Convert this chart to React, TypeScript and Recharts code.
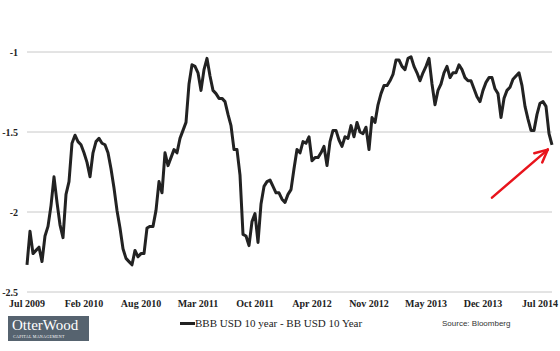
import { LineChart, Line, XAxis, YAxis, CartesianGrid, Legend, ReferenceLine } from 'recharts';

// category labels shown along the bottom, one every `labelStep` points
const tickLabels = ['Jul 2009', 'Feb 2010', 'Aug 2010', 'Mar 2011', 'Oct 2011', 'Apr 2012', 'Nov 2012', 'May 2013', 'Dec 2013', 'Jul 2014'];
const labelStep = 19;

const yTicks = [-2.5, -2, -1.5, -1];

// BBB USD 10 year - BB USD 10 Year, roughly every 1.5 weeks from Jul 2009
const spread = [
  -2.33, -2.12, -2.26, -2.24, -2.22, -2.31, -2.15, -2.09, -1.96, -1.78,
  -1.94, -2.08, -2.16, -1.89, -1.81, -1.57, -1.52, -1.56, -1.58, -1.63,
  -1.69, -1.78, -1.63, -1.56, -1.54, -1.57, -1.58, -1.63, -1.73, -1.85,
  -1.99, -2.10, -2.23, -2.29, -2.31, -2.33, -2.24, -2.28, -2.26, -2.26,
  -2.10, -2.09, -2.09, -1.99, -1.81, -1.88, -1.63, -1.71, -1.66, -1.61,
  -1.63, -1.54, -1.49, -1.44, -1.20, -1.08, -1.09, -1.13, -1.24, -1.11,
  -1.04, -1.15, -1.24, -1.26, -1.29, -1.29, -1.31, -1.39, -1.46, -1.61,
  -1.61, -1.77, -2.14, -2.15, -2.21, -2.06, -2.01, -2.19, -1.95, -1.84,
  -1.81, -1.80, -1.84, -1.88, -1.88, -1.92, -1.94, -1.89, -1.86, -1.73,
  -1.61, -1.63, -1.56, -1.57, -1.53, -1.68, -1.66, -1.66, -1.63, -1.59,
  -1.71, -1.56, -1.49, -1.49, -1.55, -1.59, -1.53, -1.54, -1.46, -1.53,
  -1.44, -1.50, -1.51, -1.47, -1.61, -1.41, -1.44, -1.33, -1.26, -1.21,
  -1.21, -1.18, -1.14, -1.05, -1.05, -1.09, -1.11, -1.04, -1.03, -1.09,
  -1.13, -1.18, -1.13, -1.09, -1.04, -1.20, -1.33, -1.24, -1.20, -1.13,
  -1.09, -1.16, -1.13, -1.13, -1.08, -1.11, -1.16, -1.18, -1.18, -1.23,
  -1.28, -1.31, -1.24, -1.19, -1.16, -1.16, -1.23, -1.26, -1.41, -1.29,
  -1.24, -1.22, -1.17, -1.15, -1.13, -1.21, -1.34, -1.42, -1.49, -1.49,
  -1.39, -1.32, -1.31, -1.34, -1.51, -1.58,
];

// red arrow pointing at the latest value
const arrowFrom = { x: 155, y: -1.91 };
const arrowTo = { x: 173.6, y: -1.61 };

const data = spread.map((v, i) => ({ i, spread: v }));
const xTicks = tickLabels.map((_, k) => k * labelStep);

const tickFont = { fontFamily: '"Liberation Serif", "Times New Roman", serif', fontSize: 10, fontWeight: 700, fill: '#222' };

function Arrow(props: any) {
  const { x1, y1, x2, y2 } = props;
  const ang = Math.atan2(y2 - y1, x2 - x1);
  const len = 14;
  const a1 = ang + Math.PI - 0.45;
  const a2 = ang + Math.PI + 0.45;
  return (
    <g stroke="#e8141c" strokeWidth={2.5} strokeLinecap="round" fill="none">
      <line x1={x1} y1={y1} x2={x2} y2={y2} />
      <line x1={x2} y1={y2} x2={x2 + len * Math.cos(a1)} y2={y2 + len * Math.sin(a1)} />
      <line x1={x2} y1={y2} x2={x2 + len * Math.cos(a2)} y2={y2 + len * Math.sin(a2)} />
    </g>
  );
}

function LegendBox({ payload }: any) {
  return (
    <div style={{ display: 'flex', alignItems: 'center' }}>
      {(payload || []).map((p: any) => (
        <div key={p.value} style={{ display: 'flex', alignItems: 'center' }}>
          <span style={{ display: 'inline-block', width: 15, height: 3, background: '#222' }} />
          <span style={{ fontFamily: '"Liberation Serif", "Times New Roman", serif', fontSize: 11, color: '#222', whiteSpace: 'nowrap' }}>{p.value}</span>
        </div>
      ))}
    </div>
  );
}

export default function App() {
  return (
    <div style={{ position: 'fixed', left: 0, top: 0, width: 560, height: 351, background: '#fff' }}>
      <LineChart width={560} height={351} data={data} margin={{ top: 52, right: 8, left: 0, bottom: 29 }}>
        <CartesianGrid vertical={false} stroke="#c8c8c8" />
        <XAxis
          dataKey="i"
          type="number"
          domain={[0, spread.length - 1]}
          ticks={xTicks}
          tickFormatter={(v: number) => tickLabels[Math.round(v / labelStep)]}
          axisLine={false}
          tickLine={false}
          tickSize={0}
          tickMargin={8}
          height={30}
          interval={0}
          tick={tickFont}
        />
        <YAxis
          domain={[-2.5, -1]}
          ticks={yTicks}
          axisLine={false}
          tickLine={false}
          tickSize={0}
          tickMargin={9}
          width={27}
          tick={tickFont}
        />
        <Line
          type="linear"
          dataKey="spread"
          name="BBB USD 10 year - BB USD 10 Year"
          stroke="#222"
          strokeWidth={3}
          strokeLinejoin="round"
          dot={false}
          isAnimationActive={false}
        />
        <ReferenceLine segment={[arrowFrom, arrowTo]} shape={Arrow} ifOverflow="visible" />
        <Legend
          layout="horizontal"
          verticalAlign="middle"
          align="center"
          wrapperStyle={{ left: 180, top: 317, width: 200 }}
          content={LegendBox}
        />
      </LineChart>
      <div style={{ position: 'absolute', left: 442, top: 319, fontFamily: '"Liberation Sans", Arial, sans-serif', fontSize: 8, color: '#333' }}>
        Source: Bloomberg
      </div>
      <div style={{ position: 'absolute', left: 8, top: 316, width: 81, height: 25, background: '#56636f', color: '#fff' }}>
        <div style={{ position: 'absolute', left: 4, top: 1, fontFamily: '"Liberation Serif", serif', fontSize: 15, lineHeight: '17px' }}>OtterWood</div>
        <div style={{ position: 'absolute', left: 5, top: 18, fontFamily: '"Liberation Serif", serif', fontSize: 4, letterSpacing: 0.3, lineHeight: '5px' }}>CAPITAL MANAGEMENT</div>
      </div>
    </div>
  );
}
